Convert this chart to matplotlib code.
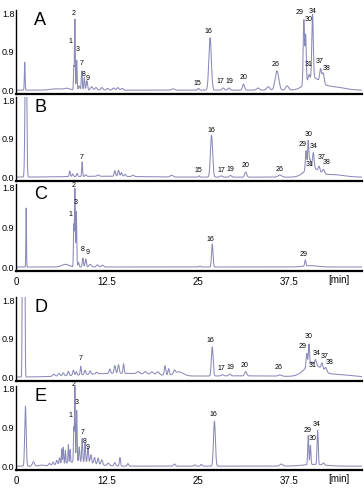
import numpy as np
import matplotlib.pyplot as plt

plt.rcParams['font.family'] = ['Liberation Sans', 'DejaVu Sans']

# peak tables: retention time [min], height, width (min)
A_rt = [1.2, 5.5, 7.0, 7.95, 8.1, 8.35, 8.7, 9.05, 9.4, 9.75, 10.4, 11.0, 11.8, 12.6, 13.4, 14.0, 14.6, 21.6,
        25.1, 26.7, 28.5, 29.3, 31.3, 33.3, 34.7, 35.9, 37.3, 39.6, 39.85, 40.3, 40.8, 41.9, 42.25, 40.8, 43.5]
A_h = [0.65, 0.03, 0.04, 0.55, 1.65, 0.7, 0.1, 0.45, 0.3, 0.22, 0.08, 0.06, 0.06, 0.04, 0.05, 0.06, 0.04, 0.03,
       0.04, 1.22, 0.05, 0.05, 0.14, 0.05, 0.08, 0.45, 0.1, 1.5, 1.1, 0.12, 1.48, 0.3, 0.25, 0.27, 0.08]
A_w = [0.05, 0.8, 0.4, 0.05, 0.05, 0.06, 0.1, 0.07, 0.07, 0.09, 0.15, 0.15, 0.15, 0.15, 0.15, 0.15, 0.15, 0.2,
       0.1, 0.17, 0.15, 0.15, 0.14, 0.2, 0.2, 0.25, 0.2, 0.09, 0.08, 0.1, 0.1, 0.12, 0.14, 1.0, 1.5]

B_rt = [1.35, 7.4, 7.8, 8.4, 9.1, 9.6, 11.3, 13.6, 14.1, 14.5, 15.0, 16.1, 21.4, 12.0,
        25.2, 26.9, 28.2, 29.5, 31.6, 36.3, 39.9, 40.2, 40.45, 40.9, 41.7, 42.3, 40.6, 43.5]
B_h = [4.0, 0.13, 0.06, 0.07, 0.34, 0.04, 0.03, 0.13, 0.14, 0.09, 0.05, 0.03, 0.04, 0.02,
       0.03, 0.98, 0.03, 0.04, 0.12, 0.05, 0.45, 0.65, 0.2, 0.35, 0.12, 0.1, 0.22, 0.06]
B_w = [0.1, 0.08, 0.08, 0.08, 0.06, 0.1, 0.15, 0.1, 0.1, 0.1, 0.12, 0.15, 0.2, 5.0,
       0.08, 0.15, 0.15, 0.15, 0.14, 0.25, 0.09, 0.08, 0.09, 0.11, 0.12, 0.14, 0.9, 1.5]

C_rt = [1.4, 6.8, 7.95, 8.1, 8.3, 8.6, 9.2, 9.6, 10.2, 11.2, 11.9, 25.3, 27.0, 39.8, 40.5]
C_h = [1.33, 0.06, 0.95, 1.75, 1.25, 0.1, 0.2, 0.18, 0.06, 0.05, 0.04, 0.02, 0.52, 0.14, 0.03]
C_w = [0.04, 0.5, 0.05, 0.05, 0.06, 0.08, 0.08, 0.09, 0.15, 0.15, 0.15, 0.1, 0.1, 0.08, 1.0]

D_rt = [0.9, 1.05, 1.2, 5.2, 5.9, 6.5, 7.2, 7.9, 8.3, 8.9, 9.5, 10.2, 11.1, 12.9, 13.6, 14.1, 14.8,
        16.8, 17.8, 18.7, 19.5, 20.5, 21.0, 21.8, 22.4, 14.0,
        27.0, 28.4, 29.4, 31.6, 36.3, 40.0, 40.3, 40.7, 41.2, 42.1, 42.6, 40.8, 44.0, 31.0]
D_h = [4.0, 4.0, 4.0, 0.05, 0.06, 0.07, 0.1, 0.12, 0.08, 0.2, 0.1, 0.08, 0.04, 0.1, 0.18, 0.2, 0.22,
       0.05, 0.06, 0.06, 0.07, 0.22, 0.15, 0.08, 0.09, 0.09,
       0.68, 0.03, 0.04, 0.1, 0.03, 0.32, 0.5, 0.05, 0.12, 0.15, 0.1, 0.28, 0.06, 0.03]
D_w = [0.05, 0.05, 0.05, 0.15, 0.15, 0.12, 0.1, 0.1, 0.08, 0.07, 0.1, 0.1, 0.12, 0.1, 0.1, 0.1, 0.08,
       0.2, 0.2, 0.2, 0.2, 0.1, 0.1, 0.12, 0.6, 5.0,
       0.12, 0.15, 0.15, 0.14, 0.25, 0.09, 0.08, 0.09, 0.11, 0.12, 0.14, 1.1, 2.0, 6.0]

E_rt = [1.3, 2.4, 3.5, 4.6, 5.1, 5.6, 6.0, 6.3, 6.5, 6.8, 7.2, 7.45, 7.95, 8.1, 8.35, 8.7, 9.1, 9.5, 9.9,
        10.3, 10.8, 11.3, 11.8, 12.7, 13.6, 14.3, 15.4, 8.5, 21.8,
        24.6, 25.5, 27.3, 36.5, 40.2, 40.5, 41.5, 42.3, 41.0]
E_h = [1.4, 0.1, 0.02, 0.05, 0.07, 0.1, 0.15, 0.35, 0.38, 0.3, 0.42, 0.3, 0.8, 1.75, 1.2, 0.35, 0.55, 0.45, 0.35,
       0.2, 0.15, 0.15, 0.12, 0.06, 0.08, 0.2, 0.06, 0.1, 0.05,
       0.03, 0.04, 1.05, 0.05, 0.68, 0.45, 0.8, 0.05, 0.04]
E_w = [0.1, 0.15, 0.3, 0.12, 0.1, 0.1, 0.08, 0.05, 0.05, 0.05, 0.05, 0.05, 0.05, 0.05, 0.06, 0.07, 0.07, 0.07, 0.08,
       0.1, 0.1, 0.1, 0.12, 0.15, 0.12, 0.08, 0.1, 2.0, 0.12,
       0.1, 0.1, 0.13, 0.2, 0.07, 0.07, 0.08, 0.12, 1.5]

# peak numbers and where their labels sit (min, AU)
A_lab = {'1': (7.47, 1.13), '2': (7.97, 1.78), '3': (8.47, 0.96), '7': (9.07, 0.63), '8': (9.34, 0.36),
         '9': (9.9, 0.28), '15': (25.0, 0.16), '16': (26.5, 1.37), '17': (28.1, 0.2), '19': (29.3, 0.2),
         '20': (31.3, 0.3), '26': (35.7, 0.59), '29': (39.0, 1.82), '30': (40.2, 1.65), '34': (40.85, 1.84),
         '31': (40.2, 0.61), '37': (41.8, 0.67), '38': (42.7, 0.51)}
B_lab = {'7': (9.07, 0.46), '15': (25.1, 0.15), '16': (26.9, 1.1), '17': (28.2, 0.16), '19': (29.5, 0.19),
         '20': (31.6, 0.27), '26': (36.2, 0.19), '29': (39.4, 0.76), '30': (40.2, 1.0), '31': (40.4, 0.29),
         '34': (40.9, 0.71), '37': (42.0, 0.47), '38': (42.8, 0.35)}
C_lab = {'1': (7.47, 1.18), '2': (7.97, 1.84), '3': (8.25, 1.45), '8': (9.15, 0.39), '9': (9.9, 0.33),
         '16': (26.8, 0.63), '29': (39.6, 0.29)}
D_lab = {'7': (8.84, 0.44), '16': (26.8, 0.86), '17': (28.2, 0.2), '19': (29.5, 0.22), '20': (31.5, 0.27),
         '26': (36.1, 0.23), '29': (39.4, 0.72), '30': (40.2, 0.96), '31': (40.75, 0.27), '34': (41.3, 0.55),
         '37': (42.5, 0.47), '38': (43.2, 0.33)}
E_lab = {'1': (7.42, 1.19), '2': (7.88, 1.91), '3': (8.38, 1.48), '7': (9.2, 0.78), '8': (9.5, 0.57),
         '9': (9.9, 0.44), '16': (27.2, 1.21), '29': (40.1, 0.83), '30': (40.8, 0.65), '34': (41.4, 0.97)}

xticks = [0, 12.5, 25, 37.5]
xticklabels = ['0', '12.5', '25', '37.5']
yticks = [0.0, 0.9, 1.8]

t = np.linspace(0, 47.6, 8000)


def trace(rt, h, w):
    y = np.zeros_like(t)
    for r, a, s in zip(rt, h, w):
        y += a * np.exp(-0.5 * ((t - r) / s) ** 2)
    return y


fig = plt.figure(figsize=(3.64, 4.88), dpi=100)
W, H = 364, 488
# (top px, bottom px) of each panel
rows = [('A', A_rt, A_h, A_w, A_lab, 10, 94, False),
        ('B', B_rt, B_h, B_w, B_lab, 97, 181, False),
        ('C', C_rt, C_h, C_w, C_lab, 184, 271, True),
        ('D', D_rt, D_h, D_w, D_lab, 297, 381, False),
        ('E', E_rt, E_h, E_w, E_lab, 386, 470, True)]

for name, rt, h, w, lab, top, bot, xlab in rows:
    ax = fig.add_axes([16 / W, 1 - bot / H, (362 - 16) / W, (bot - top) / H])
    ax.plot(t, trace(rt, h, w), color='#8a8aba', lw=0.75)
    ax.set_xlim(0, 47.6)
    ax.set_ylim(-0.09, 1.87)
    for s in ['top', 'right']:
        ax.spines[s].set_visible(False)
    ax.spines['left'].set_linewidth(1.0)
    ax.spines['bottom'].set_linewidth(1.6)
    ax.set_yticks(yticks)
    ax.set_yticklabels(['%.1f' % v for v in yticks])
    ax.set_xticks(xticks)
    if xlab:
        ax.set_xticklabels(xticklabels)
        ax.text(44.4, -0.045, '[min]', transform=ax.get_xaxis_transform(), ha='center', va='top', fontsize=7)
    else:
        ax.set_xticklabels([])
    ax.tick_params(axis='y', length=0, labelsize=6.5, pad=1)
    ax.tick_params(axis='x', length=0, labelsize=7, pad=4)
    ax.text(2.5, 0.88, name, transform=ax.get_xaxis_transform(), ha='left', va='center', fontsize=13)
    for k, (x, y) in lab.items():
        ax.text(x, y, k, ha='center', va='center', fontsize=5, clip_on=False)

fig.savefig('out.png', dpi=100)
